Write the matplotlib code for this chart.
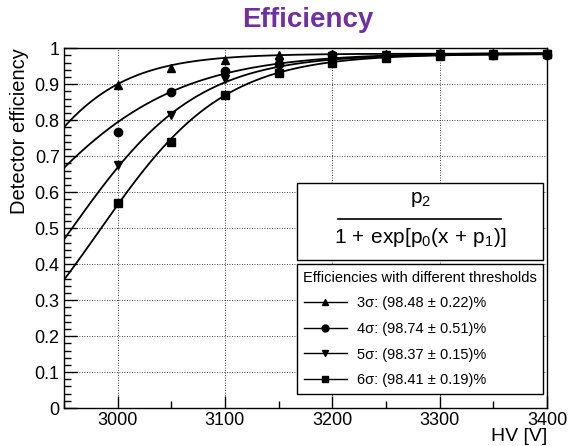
"""Detector efficiency vs HV for four thresholds, with sigmoid fits."""

import matplotlib

matplotlib.use("Agg")
import matplotlib.pyplot as plt  # noqa: E402
import numpy as np  # noqa: E402
from matplotlib.lines import Line2D  # noqa: E402
from matplotlib.patches import Rectangle  # noqa: E402
from matplotlib.ticker import MultipleLocator  # noqa: E402

plt.rcParams["font.family"] = ["Liberation Sans", "DejaVu Sans"]
plt.rcParams["mathtext.fontset"] = "custom"
plt.rcParams["mathtext.rm"] = "Liberation Sans"
plt.rcParams["mathtext.it"] = "Liberation Sans"

# ---- data ----
HV = [3000, 3050, 3100, 3150, 3200, 3250, 3300, 3350, 3400]

EFF_3SIG = [0.897, 0.945, 0.967, 0.980, 0.985, 0.985, 0.986, 0.986, 0.986]
EFF_4SIG = [0.768, 0.879, 0.937, 0.957, 0.980, 0.978, 0.982, 0.981, 0.982]
EFF_5SIG = [0.675, 0.814, 0.913, 0.962, 0.978, 0.982, 0.983, 0.984, 0.984]
EFF_6SIG = [0.570, 0.740, 0.869, 0.932, 0.960, 0.972, 0.978, 0.981, 0.983]

# fit parameters  p2 / (1 + exp[p0 (x + p1)])
FIT_P0 = [-0.0205, -0.0136, -0.01693, -0.01726]
FIT_P1 = [-2884.8, -2896.1, -2955.7, -2982.9]
FIT_P2 = [0.9848, 0.9874, 0.9837, 0.9841]

LABELS = [
    "3\u03c3: (98.48 \u00b1 0.22)%",
    "4\u03c3: (98.74 \u00b1 0.51)%",
    "5\u03c3: (98.37 \u00b1 0.15)%",
    "6\u03c3: (98.41 \u00b1 0.19)%",
]
MARKERS = ["^", "o", "v", "s"]
SERIES = [EFF_3SIG, EFF_4SIG, EFF_5SIG, EFF_6SIG]

TITLE_COLOR = "#7030a0"


def main() -> None:
    fig = plt.figure(figsize=(5.7, 4.46), dpi=100)
    ax = fig.add_axes([0.112, 0.085, 0.848, 0.807])

    xs = np.linspace(2950, 3400, 400)
    handles = []
    for eff, mk, p0, p1, p2, lab in zip(SERIES, MARKERS, FIT_P0, FIT_P1,
                                        FIT_P2, LABELS):
        fit = p2 / (1.0 + np.exp(p0 * (xs + p1)))
        ax.plot(xs, fit, color="black", lw=1.3, zorder=3)
        ax.plot(HV, eff, ls="none", marker=mk, color="black", ms=6,
                zorder=4, clip_on=False)
        handles.append(Line2D([], [], color="black", lw=1.0, marker=mk,
                              ms=5, label=lab))

    ax.set_xlim(2950, 3400)
    ax.set_ylim(0, 1)
    ax.xaxis.set_major_locator(MultipleLocator(100))
    ax.xaxis.set_minor_locator(MultipleLocator(50))
    ax.yaxis.set_minor_locator(MultipleLocator(0.02))
    ax.set_yticks(np.arange(0, 1.01, 0.1))
    ax.set_yticklabels(["0", "0.1", "0.2", "0.3", "0.4", "0.5", "0.6",
                        "0.7", "0.8", "0.9", "1"])
    ax.tick_params(which="both", direction="in", labelsize=13,
                   top=False, right=False, width=1.0)
    ax.tick_params(which="major", length=9, pad=3)
    ax.tick_params(which="minor", length=5)
    ax.grid(True, which="major", color="black", ls=(0, (1, 2)), lw=0.6)
    for s in ax.spines.values():
        s.set_linewidth(1.0)

    ax.set_ylabel("Detector efficiency", fontsize=14.5, loc="top",
                  labelpad=4)
    ax.set_xlabel("HV [V]", fontsize=14, loc="right", labelpad=-1)

    fig.text(0.54, 0.955, "Efficiency", ha="center", va="center",
             fontsize=20, fontweight="bold", color=TITLE_COLOR)

    # formula box
    fig.add_artist(Rectangle((0.521, 0.417), 0.432, 0.173,
                             transform=fig.transFigure, fill=True,
                             facecolor="white", edgecolor="black", lw=1.0,
                             zorder=5))
    fig.text(0.737, 0.552, r"$\mathregular{p_2}$", ha="center", va="center",
             fontsize=15, zorder=6)
    fig.add_artist(Line2D([0.593, 0.879], [0.509, 0.509],
                          transform=fig.transFigure, color="black", lw=1.2,
                          zorder=6))
    fig.text(0.737, 0.467,
             r"$\mathregular{1\,+\,exp[p_0(x\,+\,p_1)]}$",
             ha="center", va="center", fontsize=15, zorder=6)

    leg = fig.legend(handles=handles, loc="upper left",
                     bbox_to_anchor=(0.521, 0.408, 0.432, 0.0),
                     mode="expand", fontsize=10.5,
                     title="Efficiencies with different thresholds",
                     title_fontsize=10.5, frameon=True, fancybox=False,
                     framealpha=1.0, edgecolor="black", borderaxespad=0,
                     handlelength=3.0, handletextpad=0.7, labelspacing=0.8,
                     borderpad=0.45)
    leg.get_frame().set_linewidth(1.0)
    leg.set_zorder(6)

    fig.savefig("out.png")
    plt.close(fig)


if __name__ == "__main__":
    main()
